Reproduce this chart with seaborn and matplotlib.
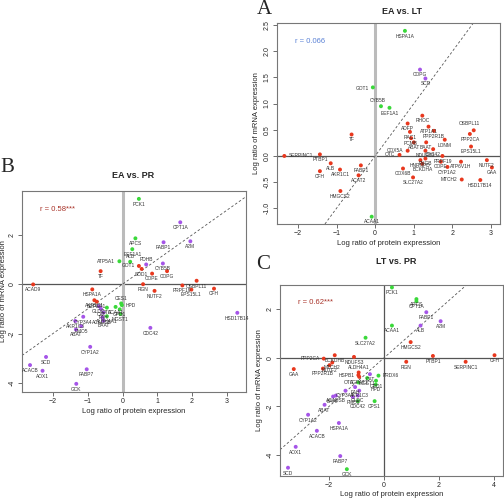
# %% libraries
import pandas as pd
import seaborn as sns
import matplotlib.pyplot as plt

# %% data: protein (x) and mRNA (y) log ratios, colour group per gene
a_genes = ['HSPA1A', 'COPG', 'SCD', 'GOT1', 'CYB5B', 'EEF1A1', 'RHOC', 'ADFP', 'ATP1A1', 'RAC1',
           'PPP2R1B', 'OSBPL11', 'PPP2CA', 'PCMB', 'ABAT', 'BAAT', 'LONM', 'EPS15L1', 'COX5A', 'OTC',
           'NDUFS3', 'CDC42', 'PRPF19', 'HNRNPD', 'PYGB', 'BCKDHA', 'COPE', 'CYP1A2', 'ATP6V1H', 'NUTF2',
           'GAA', 'COX6B', 'SLC27A2', 'MTCH2', 'HSD17B14', 'SERPINC1', 'PTBP1', 'TF', 'ALB', 'CFH',
           'AKR1C1', 'FABP1', 'ACAT2', 'HMGCS2', 'ACAA1']
a_protein = [0.77, 1.16, 1.30, -0.06, 0.15, 0.37, 1.22, 0.84, 1.38, 0.90,
             1.52, 2.55, 2.45, 0.93, 1.00, 1.32, 1.80, 2.48, 0.84, 0.63,
             1.30, 1.50, 1.74, 1.17, 1.30, 1.22, 1.70, 1.87, 2.22, 2.89,
             3.02, 0.72, 0.98, 2.24, 2.72, -2.35, -1.43, -0.61, -1.15, -1.43,
             -0.91, -0.37, -0.43, -0.90, -0.09]
a_mrna = [2.39, 1.65, 1.48, 1.31, 0.95, 0.92, 0.77, 0.62, 0.56, 0.46,
          0.48, 0.49, 0.42, 0.34, 0.26, 0.26, 0.31, 0.18, 0.10, 0.02,
          0.10, 0.13, 0.00, -0.08, -0.05, -0.15, -0.11, -0.21, -0.11, -0.08,
          -0.22, -0.24, -0.41, -0.45, -0.46, 0.00, 0.03, 0.41, -0.14, -0.29,
          -0.26, -0.18, -0.37, -0.67, -1.16]
a_group = ['g', 'p', 'p', 'g', 'g', 'g'] + ['r'] * 38 + ['g']

b_genes = ['PCK1', 'CPT1A', 'APCS', 'FABP1', 'A2M', 'EEF1A1', 'ALB', 'ATP5A1', 'PDHB', 'GOT1',
           'CYB5B', 'SOD1', 'COPE', 'COPG', 'TF', 'ACAD9', 'RGN', 'NUTF2', 'PRPF19', 'OSBPL11',
           'EPS15L1', 'CFH', 'HSD17B14', 'CDC42', 'HSPA1A', 'AKR1C1', 'SCPEP1', 'GLDC', 'CAT', 'OTC',
           'PAH', 'CES1', 'HPD', 'ACAA1', 'GPD1', 'MGST1', 'ALDH4A1', 'BAAT', 'ACADSB', 'CYP3A4',
           'AKR1C3', 'ABAT', 'FMO5', 'CYP1A2', 'SCD', 'ACACB', 'AOX1', 'FABP7', 'GCK']
b_protein = [0.47, 1.66, 0.37, 1.18, 1.95, 0.28, 0.22, -0.09, 0.68, 0.47,
             1.16, 0.55, 0.85, 1.28, -0.63, -2.57, 0.59, 0.92, 1.72, 2.13,
             1.98, 2.63, 3.30, 0.80, -0.87, -0.81, -0.74, -0.68, -0.62, -0.45,
             -0.55, -0.04, -0.02, -0.20, -0.08, -0.06, -0.45, -0.55, -0.58, -1.13,
             -1.36, -1.34, -1.19, -0.93, -2.20, -2.66, -2.30, -1.03, -1.33]
b_mrna = [3.46, 2.51, 1.86, 1.70, 1.74, 1.42, 0.91, 0.93, 0.80, 0.74,
          0.84, 0.62, 0.43, 0.53, 0.53, -0.01, 0.00, -0.27, -0.05, 0.14,
          -0.22, -0.18, -1.16, -1.77, -0.21, -0.65, -0.71, -0.89, -1.00, -0.95,
          -1.15, -0.78, -0.85, -0.92, -1.02, -1.21, -1.30, -1.48, -1.35, -1.32,
          -1.49, -1.84, -1.70, -2.54, -2.95, -3.28, -3.51, -3.45, -4.04]
b_group = ['g', 'p', 'g', 'p', 'p', 'g', 'g', 'g', 'p', 'r',
           'p', 'r', 'r', 'r', 'r', 'r', 'r', 'r', 'r', 'r',
           'r', 'r', 'p', 'p', 'r', 'r', 'r', 'p', 'p', 'g',
           'p', 'g', 'g', 'g', 'g', 'g', 'g', 'p', 'p', 'p',
           'p', 'p', 'p', 'p', 'p', 'p', 'p', 'p', 'p']

c_genes = ['PCK1', 'APCS', 'CPT1A', 'FABP1', 'A2M', 'ALB', 'ACAA1', 'SLC27A2', 'HMGCS2', 'PTBP1',
           'RGN', 'SERPINC1', 'CFH', 'PPP2CA', 'BCKDHB', 'MTCH2', 'NDUFS3', 'NUTF2', 'GAA', 'PPP2R1B',
           'ALDH4A1', 'HSPB1', 'AGPAT1', 'CAT', 'MGST1', 'PRDX6', 'GPD1', 'HPD', 'OTC', 'FAH',
           'AKR1C3', 'GLDC', 'FMO5', 'CDC42', 'CPS1', 'CYP3A4', 'ACADSB', 'BAAT', 'ABAT', 'CYP1A2',
           'HSPA1A', 'ACACB', 'AOX1', 'FABP7', 'SCD', 'GCK']
c_protein = [0.29, 1.18, 1.18, 1.54, 2.06, 1.33, 0.29, -0.67, 0.97, 1.78,
             0.81, 2.97, 4.02, -2.19, -1.79, -1.88, -1.09, -1.98, -3.28, -2.22,
             -0.92, -0.93, -0.90, -0.51, -0.61, -0.20, -0.29, -0.30, -0.93, -1.05,
             -0.90, -0.95, -1.13, -0.95, -0.34, -1.40, -1.75, -1.85, -2.16, -2.76,
             -1.64, -2.44, -3.21, -1.59, -3.49, -1.35]
c_mrna = [2.90, 2.42, 2.33, 1.88, 1.51, 1.33, 1.33, 0.83, 0.65, 0.08,
          -0.16, -0.16, 0.11, -0.03, 0.11, -0.19, 0.04, -0.30, -0.46, -0.44,
          -0.60, -0.71, -0.78, -0.67, -0.83, -0.73, -0.94, -1.10, -1.01, -1.20,
          -1.35, -1.55, -1.61, -1.78, -1.78, -1.35, -1.55, -1.59, -1.93, -2.34,
          -2.68, -3.00, -3.66, -4.04, -4.52, -4.58]
c_group = ['g', 'g', 'g', 'p', 'p', 'p', 'g', 'g', 'r', 'r',
           'r', 'r', 'r', 'r', 'r', 'r', 'r', 'r', 'r', 'r',
           'r', 'r', 'r', 'p', 'g', 'g', 'g', 'g', 'g', 'p',
           'p', 'p', 'p', 'g', 'g', 'p', 'p', 'p', 'p', 'p',
           'p', 'p', 'p', 'p', 'p', 'g']

titles = ['EA vs. LT', 'EA vs. PR', 'LT vs. PR']
r_labels = ['r = 0.066', 'r = 0.58***', 'r = 0.62***']
fit_slope = 1.0
fit_intercept = 0.0

# %% styling
palette = {'r': '#e8381e', 'g': '#3ad83a', 'p': '#a555e8'}
sns.set_style('white')
plt.rcParams['font.family'] = ['Liberation Sans', 'DejaVu Sans']

fig = plt.figure(figsize=(5.04, 4.98), dpi=100)
axA = fig.add_axes([0.5496, 0.5502, 0.4425, 0.4036])
axB = fig.add_axes([0.0437, 0.2129, 0.4444, 0.4036])
axC = fig.add_axes([0.5556, 0.0442, 0.4425, 0.3835])

# label offsets (points) for genes whose label is not straight below the dot
left = (-3, 0, 'right', 'center')
right = (3, 0, 'left', 'center')
above = (0, 2, 'center', 'bottom')
side_a = {'SERPINC1': right, 'OSBPL11': (-3, 3, 'center', 'bottom'), 'COX5A': left,
          'OTC': left, 'MTCH2': left, 'GOT1': (-3, -1, 'right', 'center'),
          'CYB5B': (-2, 2, 'center', 'bottom')}
side_b = {'ATP5A1': left, 'GOT1': left, 'ALB': above, 'PDHB': above, 'CES1': above,
          'HPD': right}
side_c = {'PPP2CA': left, 'PRDX6': right, 'HSPB1': left, 'OTC': left, 'ALDH4A1': above}


def draw(ax, genes, xs, ys, grp, side, rtxt, rcol, xlim, ylim, xticks, yticks, yfmt,
         vline_light, ylpad):
    df = pd.DataFrame({'gene': genes, 'protein': xs, 'mrna': ys, 'group': grp})
    ax.axhline(0, color='#555555', lw=0.9, zorder=1)
    if vline_light:
        ax.axvline(0, color='#bbbbbb', lw=2.2, zorder=1)
    else:
        ax.axvline(0, color='#555555', lw=0.9, zorder=1)
    ax.axline((0, fit_intercept), slope=fit_slope, color='#555555', lw=0.6,
              ls=(0, (3, 2.5)), zorder=1)
    sns.scatterplot(data=df, x='protein', y='mrna', hue='group', palette=palette,
                    s=8, linewidth=0, legend=False, ax=ax, zorder=3)
    for _, row in df.iterrows():
        dx, dy, ha, va = side.get(row['gene'], (0, -2, 'center', 'top'))
        ax.annotate(row['gene'], (row['protein'], row['mrna']), xytext=(dx, dy),
                    textcoords='offset points', ha=ha, va=va, fontsize=3.5, color='#333333')
    ax.set_xlim(xlim)
    ax.set_ylim(ylim)
    ax.set_xticks(xticks)
    ax.set_yticks(yticks)
    ax.set_yticklabels([yfmt.format(v) for v in yticks], rotation=90, va='center')
    ax.tick_params(direction='out', length=3, width=0.6, color='#555555',
                   labelsize=5, pad=1.5, left=True, bottom=True)
    for sp in ax.spines.values():
        sp.set_color('#777777')
        sp.set_linewidth(0.8)
    ax.set_xlabel('Log ratio of protein expression', fontsize=5.5, labelpad=2)
    ax.set_ylabel('Log ratio of mRNA expression', fontsize=5.5, labelpad=ylpad)
    ax.text(0.08, 0.90, rtxt, transform=ax.transAxes, fontsize=5.5, color=rcol)


draw(axA, a_genes, a_protein, a_mrna, a_group, side_a, r_labels[0], '#5b82d6',
     (-2.54, 3.23), (-1.30, 2.54), [-2, -1, 0, 1, 2, 3],
     [-1.0, -0.5, 0.0, 0.5, 1.0, 1.5, 2.0, 2.5], '{:.1f}', True, 3)
draw(axB, b_genes, b_protein, b_mrna, b_group, side_b, r_labels[1], '#a83228',
     (-2.89, 3.55), (-4.37, 3.78), [-2, -1, 0, 1, 2, 3], [-4, -2, 0, 2], '{:d}', True, 1)
draw(axC, c_genes, c_protein, c_mrna, c_group, side_c, r_labels[2], '#a83228',
     (-3.78, 4.33), (-4.86, 3.0), [-2, 0, 2, 4], [-4, -2, 0, 2], '{:d}', False, 3)
axC.xaxis.labelpad = 1

# %% titles and panel letters
fig.text(402 / 504, 1 - 12 / 498, titles[0], ha='center', va='center', fontsize=6.5, weight='bold')
fig.text(133 / 504, 1 - 176 / 498, titles[1], ha='center', va='center', fontsize=6.5, weight='bold')
fig.text(396 / 504, 1 - 261 / 498, titles[2], ha='center', va='center', fontsize=6.5, weight='bold')
for letter, px, py in [('A', 264, 9), ('B', 7, 167), ('C', 263, 264)]:
    fig.text(px / 504, 1 - py / 498, letter, ha='center', va='center', fontsize=15,
             family='Liberation Serif')

fig.savefig('out.png', dpi=100)
